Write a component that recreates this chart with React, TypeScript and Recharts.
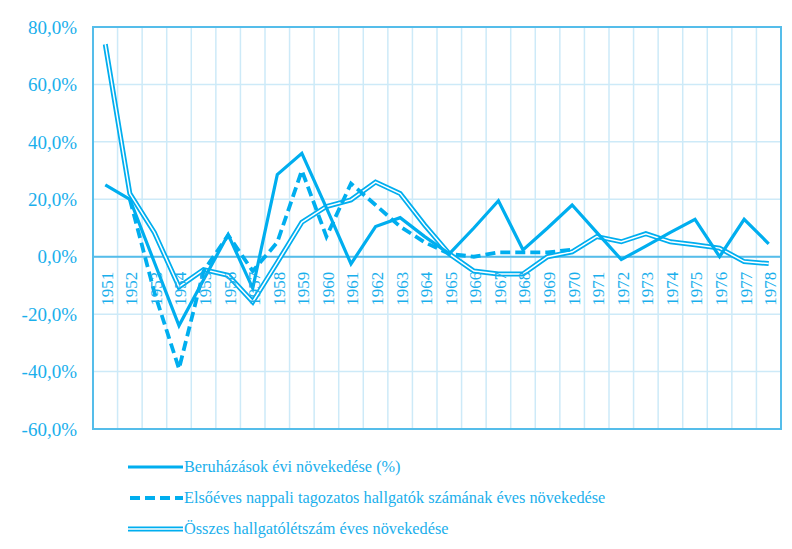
import React from "react";
import {
  LineChart,
  Line,
  XAxis,
  YAxis,
  CartesianGrid,
  ReferenceLine,
  ReferenceArea,
  Legend,
} from "recharts";

const years = [
  "1951", "1952", "1953", "1954", "1955", "1956", "1957", "1958", "1959", "1960",
  "1961", "1962", "1963", "1964", "1965", "1966", "1967", "1968", "1969", "1970",
  "1971", "1972", "1973", "1974", "1975", "1976", "1977", "1978",
];

// Beruházások évi növekedése (%)
const investment = [
  25, 20, -2, -24, -8, 7.7, -11, 28.6, 36, 17,
  -2.5, 10.5, 13.6, 7, 1, 10, 19.5, 2.4, 10, 18,
  8.5, -1, 3.7, 8.5, 13, 0, 13, 4.5,
];

// Elsőéves nappali tagozatos hallgatók
const firstYear: (number | null)[] = [
  null, 20, -12.5, -39, -5, 7.5, -5, 5, 30, 7,
  25.5, 18, 10.5, 5, 1, 0, 1.5, 1.5, 1.5, 2.5,
  null, null, null, null, null, null, null, null,
];

// Összes hallgatólétszám
const totalStudents = [
  74, 22, 8.4, -10.5, -4.5, -6.5, -15.7, -2, 12, 17.5,
  19.8, 26, 22, 11, 1, -5, -6, -6, 0, 1.7,
  7, 5.2, 8, 5.2, 4.2, 3, -1.7, -2.4,
];

const yTicks = [-60, -40, -20, 0, 20, 40, 60, 80];

const seriesNames = [
  "Beruházások évi növekedése (%)",
  "Elsőéves nappali tagozatos hallgatók számának éves növekedése",
  "Összes hallgatólétszám éves növekedése",
];

const data = years.map((year, i) => ({
  year,
  investment: investment[i],
  firstYear: firstYear[i],
  total: totalStudents[i],
}));

const BLUE = "#00AEEF";
const TEXT = "#1AAFEC";
const GRID = "#CDEAF8";
const FRAME = "#55BDEA";
const FONT = "Liberation Serif";

const W = 776;
const H = 533;
const margin = { top: 19, right: 3, left: 5, bottom: 111 };
const plotH = H - margin.top - margin.bottom - 1;
const zeroY = margin.top + (plotH * 80) / 140;

const XTick = (props: any) => {
  const { x, payload } = props;
  const cx = x + 2;
  const cy = zeroY + 15;
  return (
    <text
      x={cx}
      y={cy}
      transform={`rotate(-90, ${cx}, ${cy})`}
      textAnchor="end"
      dominantBaseline="central"
      fill={TEXT}
      fontSize={17}
      fontFamily={FONT}
    >
      {payload.value}
    </text>
  );
};

const LegendContent = () => (
  <div style={{ fontFamily: FONT, fontSize: 16.3, color: TEXT }}>
    {seriesNames.map((name, i) => (
      <div key={name} style={{ display: "flex", alignItems: "center", height: 31 }}>
        <svg width={55} height={10} style={{ marginRight: 1 }}>
          {i === 0 && <line x1={0} y1={5} x2={55} y2={5} stroke={BLUE} strokeWidth={3.2} />}
          {i === 1 && (
            <line x1={2} y1={5} x2={55} y2={5} stroke={BLUE} strokeWidth={3.8} strokeDasharray="10 5" />
          )}
          {i === 2 && (
            <>
              <line x1={0} y1={5} x2={55} y2={5} stroke={BLUE} strokeWidth={5} />
              <line x1={0} y1={5} x2={55} y2={5} stroke="#fff" strokeWidth={1.5} />
            </>
          )}
        </svg>
        <span>{name}</span>
      </div>
    ))}
  </div>
);

export default function App() {
  return (
    <LineChart width={W} height={H} data={data} margin={margin}>
      <CartesianGrid
        stroke={GRID}
        strokeWidth={1.5}
        verticalCoordinatesGenerator={({ offset }: any) =>
          Array.from({ length: years.length + 1 }, (_, i) => offset.left + (i * offset.width) / years.length)
        }
      />
      <XAxis
        dataKey="year"
        scale="band"
        interval={0}
        axisLine={false}
        tickLine={false}
        height={1}
        tick={XTick}
      />
      <YAxis
        width={80}
        domain={[-60, 80]}
        ticks={yTicks}
        axisLine={false}
        tickLine={false}
        tickSize={0}
        tickMargin={16}
        tickFormatter={(v: number) => v.toFixed(1).replace(".", ",") + "%"}
        tick={{ fill: TEXT, fontSize: 19, fontFamily: FONT }}
      />
      <ReferenceArea y1={-60} y2={80} fill="none" stroke={FRAME} strokeWidth={2} />
      <ReferenceLine y={0} stroke={FRAME} strokeWidth={2} />
      <Line dataKey="total" stroke={BLUE} strokeWidth={5} dot={false} isAnimationActive={false} />
      <Line dataKey="total" stroke="#fff" strokeWidth={1.5} dot={false} legendType="none" isAnimationActive={false} />
      <Line
        dataKey="firstYear"
        stroke={BLUE}
        strokeWidth={3.8}
        strokeDasharray="10 5"
        dot={false}
        isAnimationActive={false}
      />
      <Line dataKey="investment" stroke={BLUE} strokeWidth={3.2} dot={false} isAnimationActive={false} />
      <Legend
        layout="vertical"
        align="center"
        verticalAlign="middle"
        content={<LegendContent />}
        wrapperStyle={{ top: 443, left: 120, width: "auto" }}
      />
    </LineChart>
  );
}
